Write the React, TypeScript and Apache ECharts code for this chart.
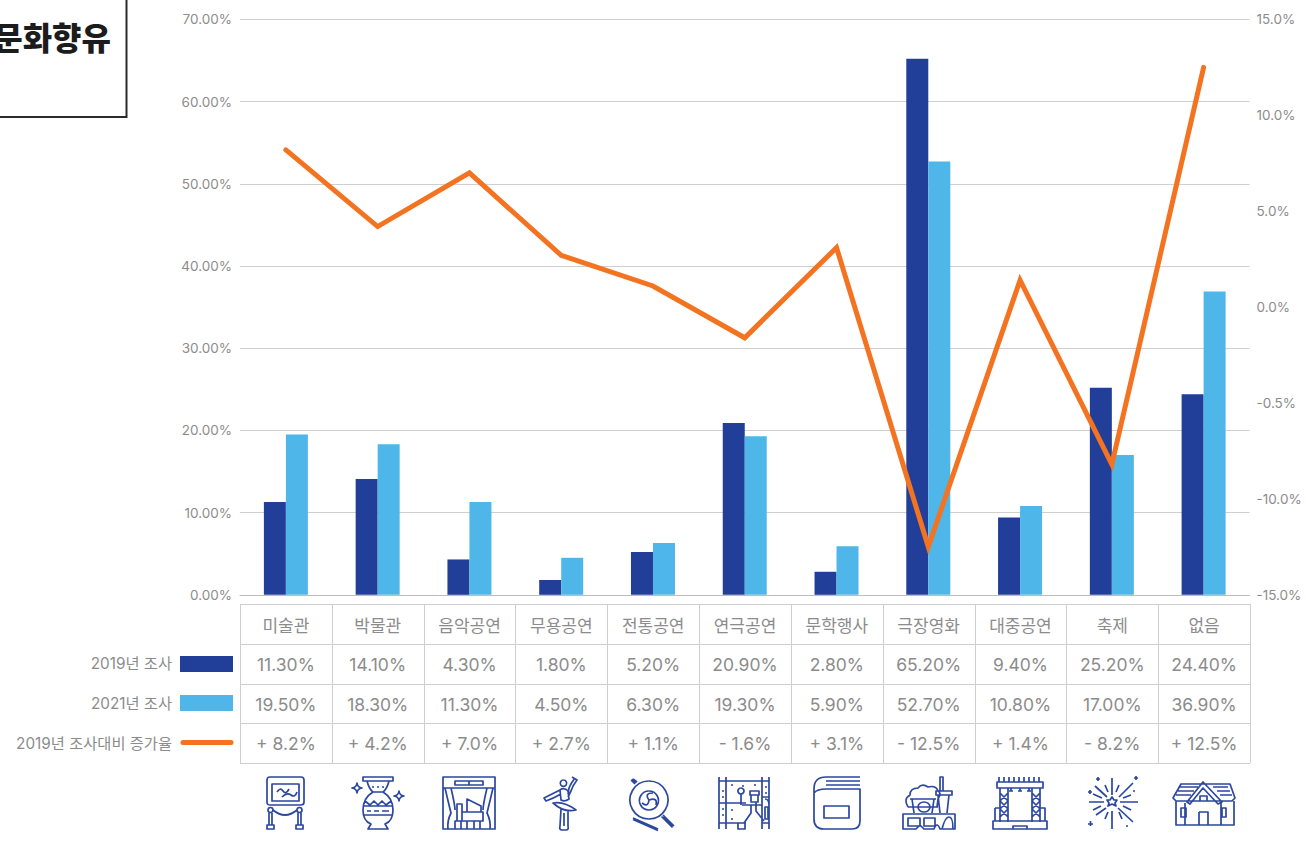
import React, { useEffect, useRef } from "react";
import * as echarts from "echarts";

const categories = ["미술관", "박물관", "음악공연", "무용공연", "전통공연", "연극공연", "문학행사", "극장영화", "대중공연", "축제", "없음"];
const values2019 = [11.3, 14.1, 4.3, 1.8, 5.2, 20.9, 2.8, 65.2, 9.4, 25.2, 24.4];
const values2021 = [19.5, 18.3, 11.3, 4.5, 6.3, 19.3, 5.9, 52.7, 10.8, 17.0, 36.9];
const changes = [8.2, 4.2, 7.0, 2.7, 1.1, -1.6, 3.1, -12.5, 1.4, -8.2, 12.5];
const rightTickLabels: Record<string, string> = { "15": "15.0%", "10": "10.0%", "5": "5.0%", "0": "0.0%", "-5": "-0.5%", "-10": "-10.0%", "-15": "-15.0%" };
const label2019 = "2019년 조사";
const label2021 = "2021년 조사";
const labelChange = "2019년 조사대비 증가율";
const titleText = "문화향유";

const NAVY = "#213e99";
const SKY = "#4fb6ea";
const ORANGE = "#f47321";
const GREY = "#8c8c8c";
const FONT = "Inter, 'Noto Sans CJK KR', sans-serif";
const KR = "'Noto Sans CJK KR', sans-serif";

const icons: { d: string; x: number; y: number }[] = [
  { x: 267, y: 777, d: "M3 0H34Q37 0 37 3V25Q37 28 34 28H3Q0 28 0 25V3Q0 0 3 0Z M5 7H32V24H5Z M10 15Q13 10 16 14T22 12 M15 20Q20 15 24 18T30 15 M1 33a2.5 2.5 0 1 0 5 0a2.5 2.5 0 1 0 -5 0 M30 33a2.5 2.5 0 1 0 5 0a2.5 2.5 0 1 0 -5 0 M6 33Q18 43 30 33 M2 36V48 M5 36V48 M31 36V48 M34 36V48 M0 48H7V52H0Z M29 48H36V52H29Z" },
  { x: 352, y: 777, d: "M11 0H41V4H11Z M15 4Q17 12 21 15Q11 21 11 33Q11 44 19 47L16 52H36L33 47Q41 44 41 33Q41 21 31 15Q35 12 37 4 M21 15H31 M13 24L18 28L22 24L26 28L30 24L34 28L39 24 M11 29H41 M11 38H41 M15 34H19 M22 34H27 M30 34H37 M20 10h2 M25 10h2 M30 10h2 M5 6Q5.5 10.5 10 11Q5.5 11.5 5 16Q4.5 11.5 0 11Q4.5 10.5 5 6Z M47 14Q47.5 18.5 52 19Q47.5 19.5 47 24Q46.5 19.5 42 19Q46.5 18.5 47 14Z" },
  { x: 443, y: 777, d: "M0 0H52V52H0Z M12 4H40V8H12Z M26 4V8 M0 11H52 M2 11Q6 28 8 36Q4 44 5 52 M50 11Q46 28 44 36Q48 44 47 52 M8 11Q12 28 12 33 M44 11Q40 28 40 33 M24 22L38 29V35H24Z M14 27H19V44H14Z M19 35H40V44H19Z M12 44H18V52H12Z M24 44V52 M31 44V52 M37 44V52" },
  { x: 544, y: 777, d: "M19.5 3a3.2 3.2 0 1 1 -0.1 0 M31 1Q27 6 25 11L24 17 M28 0L33 3Q29 8 27 14L24 20 M16 13Q8 17 0 21L2 24Q10 21 17 17 M16 13Q20 10 24 14L25 22Q21 25 17 23Z M9 26Q20 24 32 33Q20 36 9 26Z M17 32L16 49Q15 53 18 53H22Q25 53 24 49L24 33 M20 36V49" },
  { x: 630, y: 777, d: "M19 4a19 19 0 1 1 -0.1 0 M19 14a9.5 9.5 0 1 1 -0.1 0 M19 23Q14 16 23 16 M19 23Q28 20 26 28 M19 23Q18 31 12 26 M2 2L6 6 M1 3L5 7 M3 2L7 5 M33 38L44 49 M31.5 39.5L42.5 50.5 M34 39L43 49 M33 40L42 50 M3 41L28 52 M3 42.5L28 53.5" },
  { x: 718, y: 777, d: "M1 0V52 M8 0V52 M44 0V52 M51 0V52 M1 4H51 M1 26H28 M1 46H28 M44 20H51 M44 46H51 M13 8h2 M24 9h2 M36 8h2 M13 33h2 M13 42h2 M4 14h2 M4 20h2 M4 32h2 M4 38h2 M47 10h2 M47 16h2 M23 11a3 3 0 1 1 -0.1 0 M23 17V28 M32 14H41V18H32Z M33 18V25H40V18 M24 28H44 M38 25V34L46 44 M33 28V36L26 46 M20 46H27V52H20Z M47 22Q51 22 51 28 M50 30V42H47V30Z" },
  { x: 813, y: 777, d: "M47 0H13Q1 0 1 12V42Q1 52 11 52H39Q47 52 47 44V12H13Q4 12 1 16 M13 4H47 M13 8H47 M11 29H36V41H11Z" },
  { x: 902, y: 777, d: "M6 30Q1 22 8 18Q8 11 16 11Q20 6 26 10Q34 8 36 14Q40 16 36 22L35 30 M8 22H34 M6 30H36 M10 22L12 36 M32 22L30 36 M16 30a6 5 0 1 0 12 0a6 5 0 1 0 -12 0 M38 0H41V14H38Z M34 14H50V18H34Z M36 18L38 36 M47 18L45 36 M1 37H53V52H38Q35 44 32 52H22L18 48L14 52H1Z M6 41H18V49H6Z M22 41H33V49H22Z M40 52Q43 40 47 40T51 52" },
  { x: 993, y: 777, d: "M4 5H50V11H4Z M6 0V5 M11 0V5 M16 0V5 M21 0V5 M26 0V5 M31 0V5 M36 0V5 M41 0V5 M46 0V5 M7 11V45 M15 11V45 M39 11V45 M47 11V45 M7 16L15 24L7 32L15 40 M15 16L7 24L15 32L7 40 M39 16L47 24L39 32L47 40 M47 16L39 24L47 32L39 40 M18 11V14 M27 11V14 M36 11V14 M20 14H16 M29 14H25 M38 14H34 M2 31H7 M2 31V44 M47 31H52V44 M0 44H54V52H0Z M20 52V49H34V52" },
  { x: 1087, y: 777, d: "M25 1V18 M25 34V52 M2 25H17 M33 25H51 M8 9L20 20 M31 31L46 45 M46 6L32 20 M19 31L9 38 M18 8L21 15 M32 35L35 42 M32 8L29 15 M21 35L18 42 M6 17L15 21 M36 21L44 18 M6 33L14 29 M36 29L44 33 M25 20L27 23H30L28 26L29 29L25 27L21 29L22 26L20 23H23Z M9 2h4 M11 0v4 M47 1h4 M49 -1v4 M1 15h4 M3 13v4 M46 14h2 M1 47h5 M3.5 44v5 M39 49h2" },
  { x: 1172, y: 781, d: "M1 17L9 3H58L63 17L60 20H4Z M8 6H26 M6 10H22 M4 14H19 M41 6H56 M45 10H58 M48 14H60 M15 21L31 1L50 21L46 23L31 7L18 23Z M4 20V44H62V20 M13 22V44 M49 22V44 M9 27H14V36H9Z M50 27H54V36H50Z M28 15H35V20H28Z M27 31H36V44 M27 31V44" },
];

export default function App() {
  const ref = useRef<HTMLDivElement>(null);
  useEffect(() => {
    document.body.style.margin = "0";
    document.body.style.background = "#fff";
    const chart = echarts.init(ref.current!, undefined, { renderer: "svg" });
    icons.forEach((ic, i) => echarts.graphic.registerShape("icon" + i, echarts.graphic.extendPath(ic.d, {})));

    const tableLeft = 240;
    const tableRight = 1250;
    const rowYs = [604, 644, 684, 723, 763];
    const cw = (tableRight - tableLeft) / categories.length;
    const lineStyle = { stroke: "#cfcfcf", lineWidth: 1 };
    const graphics: any[] = [];
    rowYs.forEach((y) => graphics.push({ type: "line", shape: { x1: tableLeft, y1: y + 0.5, x2: tableRight, y2: y + 0.5 }, style: lineStyle }));
    for (let i = 0; i <= categories.length; i++) {
      const x = Math.round(tableLeft + cw * i) + 0.5;
      graphics.push({ type: "line", shape: { x1: x, y1: rowYs[0], x2: x, y2: rowYs[4] }, style: lineStyle });
    }
    const cell = (text: string, x: number, y: number, fontSize: number, font = FONT) => ({
      type: "text", x, y,
      style: { text, fill: GREY, fontSize, fontFamily: font, textAlign: "center", textVerticalAlign: "middle" },
    });
    const fmtChange = (v: number) => `${v >= 0 ? "+" : "-"} ${Math.abs(v).toFixed(1)}%`;
    categories.forEach((c, i) => {
      const x = tableLeft + cw * (i + 0.5);
      graphics.push(cell(c, x, 624, 17, KR));
      graphics.push(cell(values2019[i].toFixed(2) + "%", x, 664, 17.5));
      graphics.push(cell(values2021[i].toFixed(2) + "%", x, 704, 17.5));
      graphics.push(cell(fmtChange(changes[i]), x, 743.5, 17.5));
    });
    const legendText = (text: string, y: number) => ({
      type: "text", x: 172, y,
      style: { text, fill: GREY, fontSize: 15.3, fontFamily: FONT, textAlign: "right", textVerticalAlign: "middle" },
    });
    graphics.push(legendText(label2019, 663.5), legendText(label2021, 703.5), legendText(labelChange, 743));
    graphics.push({ type: "rect", shape: { x: 180, y: 656, width: 53, height: 16 }, style: { fill: NAVY } });
    graphics.push({ type: "rect", shape: { x: 180, y: 695, width: 53, height: 16 }, style: { fill: SKY } });
    graphics.push({ type: "line", shape: { x1: 183, y1: 742.5, x2: 231, y2: 742.5 }, style: { stroke: ORANGE, lineWidth: 5, lineCap: "round" } });
    // title box
    graphics.push({ type: "rect", shape: { x: -20, y: -20, width: 146.5, height: 137 }, style: { fill: "#fff", stroke: "#2b2b2b", lineWidth: 2 } });
    graphics.push({ type: "text", x: 111, y: 36, style: { text: titleText, fill: "#1c1c1c", fontSize: 32, fontWeight: 900, fontFamily: KR, textAlign: "right", textVerticalAlign: "middle" } });
    icons.forEach((ic, i) => graphics.push({
      type: "icon" + i, x: ic.x, y: ic.y,
      style: { fill: "none", stroke: "#2b479f", lineWidth: 1.7, lineJoin: "round" },
    }));

    chart.setOption({
      animation: false,
      backgroundColor: "#fff",
      grid: { left: 240, right: 56.5, top: 19.4, height: 575.4, containLabel: false },
      xAxis: {
        type: "category", data: categories,
        axisLine: { lineStyle: { color: "#bdbdbd" } }, axisTick: { show: false }, axisLabel: { show: false },
      },
      yAxis: [
        {
          type: "value", min: 0, max: 70, interval: 10,
          axisLine: { show: false }, axisTick: { show: false },
          splitLine: { lineStyle: { color: "#cfcfcf" } },
          axisLabel: { color: GREY, fontSize: 13.5, fontFamily: FONT, margin: 8, formatter: (v: number) => v.toFixed(2) + "%" },
        },
        {
          type: "value", min: -15, max: 15, interval: 5, position: "right",
          axisLine: { show: false }, axisTick: { show: false }, splitLine: { show: false },
          axisLabel: { color: GREY, fontSize: 13.5, fontFamily: FONT, margin: 7, formatter: (v: number) => rightTickLabels[String(v)] },
        },
      ],
      series: [
        { type: "bar", name: label2019, data: values2019, barWidth: 22, barGap: 0, itemStyle: { color: NAVY } },
        { type: "bar", name: label2021, data: values2021, barWidth: 22, barGap: 0, itemStyle: { color: SKY } },
        { type: "line", name: labelChange, data: changes, yAxisIndex: 1, symbol: "none", lineStyle: { color: ORANGE, width: 5, cap: "round", join: "miter" } },
      ],
      graphic: graphics,
    });
    return () => chart.dispose();
  }, []);
  return <div ref={ref} style={{ position: "absolute", left: 0, top: 0, width: 1306, height: 842 }} />;
}
